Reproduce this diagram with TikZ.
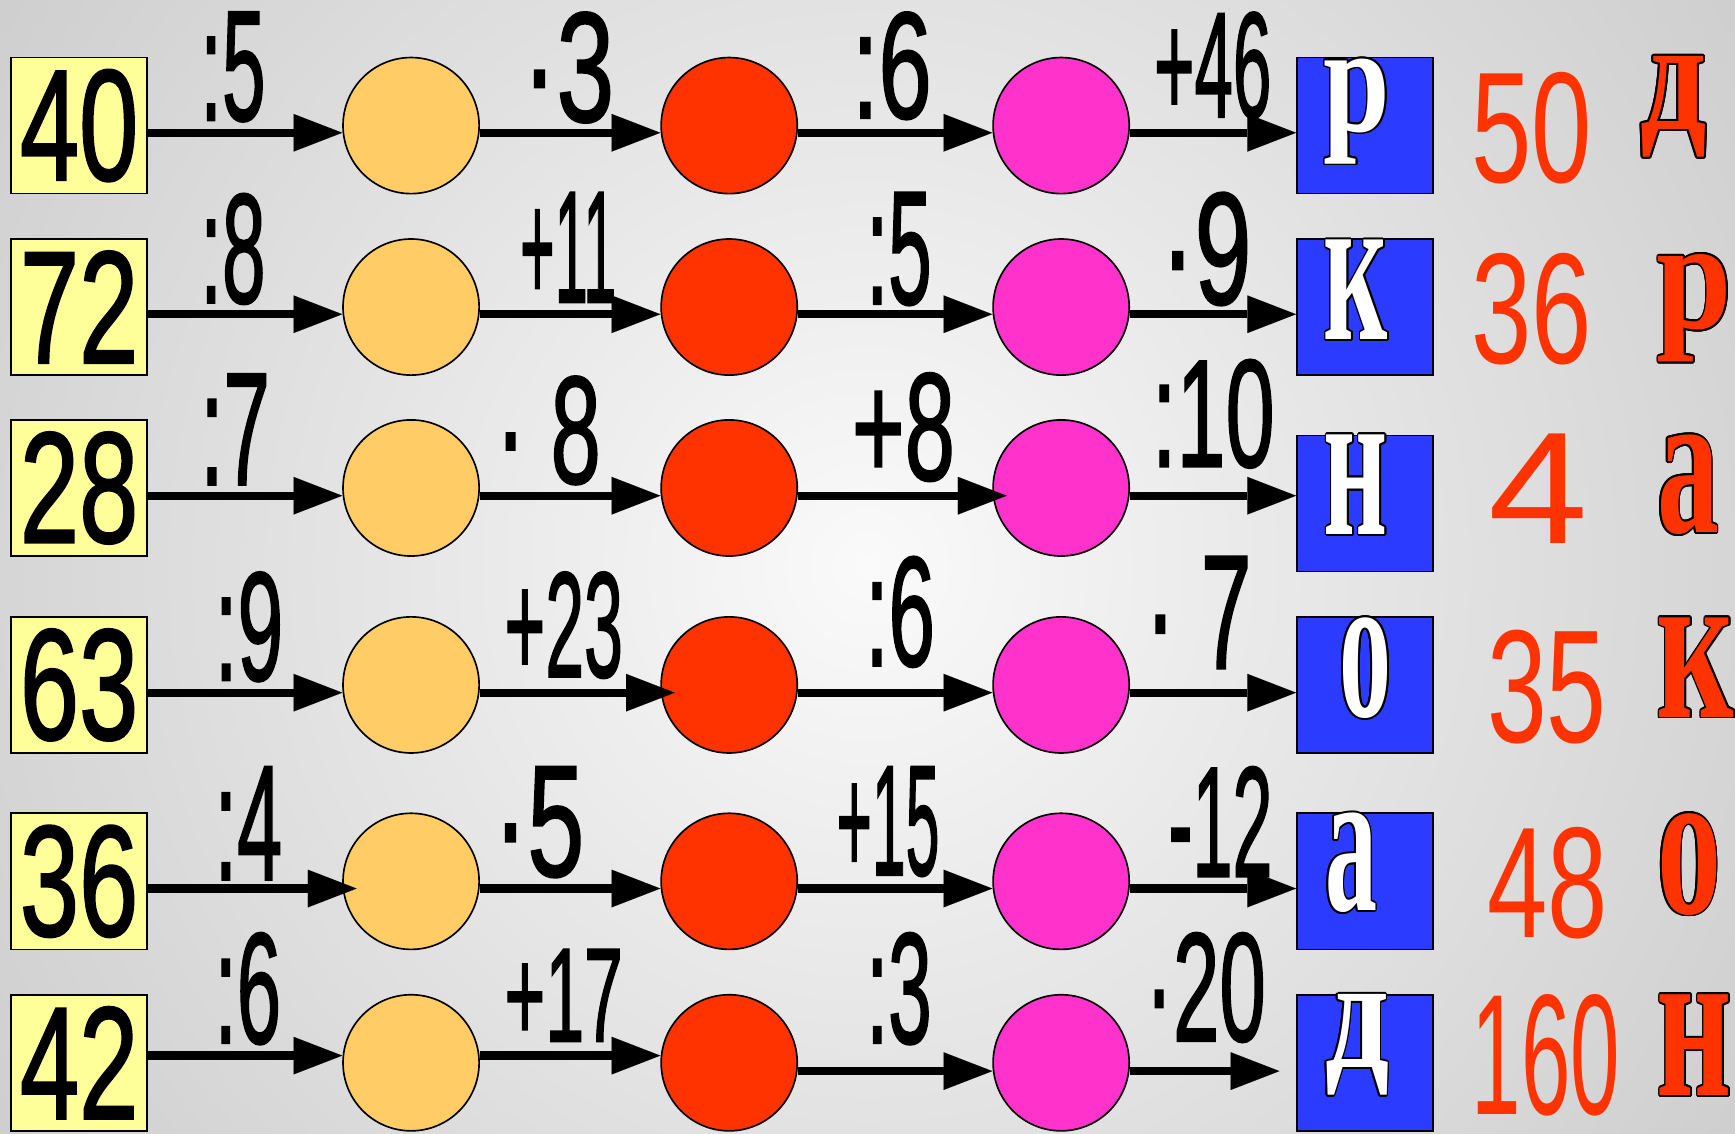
\documentclass[tikz,border=0pt]{standalone}
\usepackage{fontspec}
\setmainfont{Liberation Sans}
\newfontfamily\serifb{Liberation Serif}
\newfontfamily\sansfb{Liberation Sans}[FakeBold=1.5]
\usepackage{graphicx}
\usetikzlibrary{arrows.meta}

\definecolor{bgA}{RGB}{250,250,250}
\definecolor{bgB}{RGB}{238,238,238}
\definecolor{bgC}{RGB}{202,202,202}
\definecolor{bgD}{RGB}{178,178,178}
\definecolor{bgE}{RGB}{166,166,166}
\definecolor{boxY}{RGB}{255,255,153}
\definecolor{cirY}{RGB}{255,204,102}
\definecolor{cirR}{RGB}{255,51,0}
\definecolor{cirP}{RGB}{255,51,204}
\definecolor{boxB}{RGB}{43,59,255}
\definecolor{numR}{RGB}{255,51,0}

\pgfdeclareradialshading{bgshade}{\pgfpoint{0bp}{0bp}}{color(0bp)=(bgA); color(8bp)=(bgB); color(33bp)=(bgC); color(50bp)=(bgD); color(60bp)=(bgE); color(75bp)=(bgE)}

\newcommand\fitbox[3]{\resizebox*{#1pt}{#2pt}{#3}}
% outlined letter: name, x, y, fill colour, width, height, char
\newcommand\olet[7]{%
  \foreach \ang in {0,30,...,330}{%
    \node[lt,text=black] (#1-\ang) at ([shift={(\ang:1.7)}]#2,#3) {\fitbox{#5}{#6}{\serifb\bfseries #7}};}
  \node[lt,text=#4] (#1) at (#2,#3) {\fitbox{#5}{#6}{\serifb\bfseries #7}};
}

\tikzset{
  ybox/.style={draw=black, line width=1.5pt, fill=boxY, minimum width=123pt, minimum height=123pt, inner sep=0pt, font=\sansfb},
  bbox/.style={draw=black, line width=1.5pt, fill=boxB, minimum width=123pt, minimum height=123pt, inner sep=0pt},
  circ/.style={circle, draw=black, line width=1.5pt, minimum size=123pt, inner sep=0pt},
  arr/.style={line width=7.5pt, -{Triangle[length=44pt,width=34pt,line width=0.01pt]}},
  lbl/.style={inner sep=0pt, text=black, font=\sansfb},
  lt/.style={inner sep=0pt},
  rnum/.style={inner sep=0pt, text=numR},
}

\begin{document}
\begin{tikzpicture}[x=1pt,y=-1pt]
\useasboundingbox (0,0) rectangle (1568,1024);
\begin{scope}
  \clip (0,0) rectangle (1568,1024);
  \shade[shading=bgshade] (0,-272) rectangle (1568,1296);
\end{scope}

% start boxes
\node[ybox] (n1) at (71.5,113.5) {\fitbox{107}{101}{40}};
\node[ybox] (n2) at (71.5,277.5) {\fitbox{107}{101}{72}};
\node[ybox] (n3) at (71.5,441) {\fitbox{107}{101}{28}};
\node[ybox] (n4) at (71.5,619) {\fitbox{107}{101}{63}};
\node[ybox] (n5) at (71.5,796.5) {\fitbox{107}{101}{36}};
\node[ybox] (n6) at (71.5,960.5) {\fitbox{107}{101}{42}};

% circles
\foreach \r/\yy in {1/113.5,2/277.5,3/441,4/619,5/796.5,6/960.5}{
  \node[circ, fill=cirY] (a\r) at (371.5,\yy) {};
  \node[circ, fill=cirR] (r\r) at (659,\yy) {};
  \node[circ, fill=cirP] (p\r) at (959,\yy) {};
}

% blue boxes
\node[bbox] (b1) at (1233.5,113.5) {};
\node[bbox] (b2) at (1233.5,277.5) {};
\node[bbox] (b3) at (1233.5,455) {};
\node[bbox] (b4) at (1233.5,619) {};
\node[bbox] (b5) at (1233.5,796.5) {};
\node[bbox] (b6) at (1233.5,960.5) {};

% arrows row 1
\draw[arr] ([yshift=-6.5pt]n1.east) -- ([yshift=-6.5pt]a1.west);
\draw[arr] ([yshift=-6.5pt]a1.east) -- ([yshift=-6.5pt]r1.west);
\draw[arr] ([yshift=-6.5pt]r1.east) -- ([yshift=-6.5pt]p1.west);
\draw[arr] ([yshift=-6.5pt]p1.east) -- ([yshift=-6.5pt]b1.west);
% row 2
\draw[arr] ([yshift=-6.5pt]n2.east) -- ([yshift=-6.5pt]a2.west);
\draw[arr] ([yshift=-6.5pt]a2.east) -- ([yshift=-6.5pt]r2.west);
\draw[arr] ([yshift=-6.5pt]r2.east) -- ([yshift=-6.5pt]p2.west);
\draw[arr] ([yshift=-6.5pt]p2.east) -- ([yshift=-6.5pt]b2.west);
% row 3
\draw[arr] ([yshift=-7pt]n3.east) -- ([yshift=-7pt]a3.west);
\draw[arr] ([yshift=-7pt]a3.east) -- ([yshift=-7pt]r3.west);
\draw[arr] ([yshift=-7pt]r3.east) -- ([xshift=13pt,yshift=-7pt]p3.west);
\draw[arr] ([yshift=-7pt]p3.east) -- ([yshift=7pt]b3.west);
% row 4
\draw[arr] ([yshift=-7pt]n4.east) -- ([yshift=-7pt]a4.west);
\draw[arr] ([yshift=-7pt]a4.east) -- ([xshift=13pt,yshift=-7pt]r4.west);
\draw[arr] ([yshift=-7pt]r4.east) -- ([yshift=-7pt]p4.west);
\draw[arr] ([yshift=-7pt]p4.east) -- ([yshift=-7pt]b4.west);
% row 5
\draw[arr] ([yshift=-6.5pt]n5.east) -- ([xshift=13pt,yshift=-6.5pt]a5.west);
\draw[arr] ([yshift=-6.5pt]a5.east) -- ([yshift=-6.5pt]r5.west);
\draw[arr] ([yshift=-6.5pt]r5.east) -- ([yshift=-6.5pt]p5.west);
\draw[arr] ([yshift=-6.5pt]p5.east) -- ([yshift=-6.5pt]b5.west);
% row 6
\draw[arr] ([yshift=6.5pt]n6.east) -- ([yshift=6.5pt]a6.west);
\draw[arr] ([yshift=6.5pt]a6.east) -- ([yshift=6.5pt]r6.west);
\draw[arr] ([yshift=-7.5pt]r6.east) -- ([yshift=-7.5pt]p6.west);
\draw[arr] ([yshift=-7.5pt]p6.east) -- ([xshift=-15pt,yshift=-7.5pt]b6.west);

% labels
\node[lbl] (l1a) at (210.5,60.5) {\fitbox{59}{99}{:5}};
\node[lbl] (l1b) at (513.5,61) {\fitbox{83}{100}{·3}};
\node[lbl] (l1c) at (806,59.5) {\fitbox{72}{97}{:6}};
\node[lbl] (l1d) at (1096,59) {\fitbox{106}{96}{+46}};

\node[lbl] (l2a) at (210.5,225) {\fitbox{59}{100}{:8}};
\node[lbl] (l2b) at (513.5,223.5) {\fitbox{87}{99}{+11}};
\node[lbl] (l2c) at (812.5,225) {\fitbox{59}{102}{:5}};
\node[lbl] (l2d) at (1090,225) {\fitbox{82}{102}{·9}};

\node[lbl] (l3a) at (212.5,388) {\fitbox{63}{100}{:7}};
\node[lbl] (l3b) at (495.5,389) {\fitbox{95}{98}{· 8}};
\node[lbl] (l3c) at (816.5,386) {\fitbox{93}{98}{+8}};
\node[lbl] (l3d) at (1096.5,374) {\fitbox{111}{98}{:10}};

\node[lbl] (l4a) at (225,566.5) {\fitbox{62}{99}{:9}};
\node[lbl] (l4b) at (509.5,565) {\fitbox{107}{96}{+23}};
\node[lbl] (l4c) at (813.5,553) {\fitbox{63}{100}{:6}};
\node[lbl] (l4d) at (1083,553.5) {\fitbox{96}{101}{· 7}};

\node[lbl] (l5a) at (224.5,744) {\fitbox{61}{102}{:4}};
\node[lbl] (l5b) at (487,743) {\fitbox{82}{100}{·5}};
\node[lbl] (l5c) at (802.5,742.5) {\fitbox{93}{99}{+15}};
\node[lbl] (l5d) at (1103,742.5) {\fitbox{94}{99}{-12}};

\node[lbl] (l6a) at (224,893.5) {\fitbox{60}{101}{:6}};
\node[lbl] (l6b) at (509.5,899.5) {\fitbox{107}{83}{+17}};
\node[lbl] (l6c) at (812.5,893.5) {\fitbox{59}{101}{:3}};
\node[lbl] (l6d) at (1089.5,892.5) {\fitbox{109}{99}{·20}};

% letters in blue boxes
\olet{k1}{1226.5}{100.5}{white}{60}{95}{р}
\olet{k2}{1225.5}{262}{white}{58}{90}{к}
\olet{k3}{1225.5}{438}{white}{58}{90}{н}
\olet{k4}{1234}{603.5}{white}{47}{91}{о}
\olet{k5}{1221}{780}{white}{47}{90}{а}
\olet{k6}{1226.5}{944.5}{white}{58}{91}{д}

% red numbers
\node[rnum] (m1) at (1384.5,115.5) {\fitbox{109}{101}{50}};
\node[rnum] (m2) at (1384.5,279.5) {\fitbox{109}{101}{36}};
\node[rnum] (m3) at (1390,441.5) {\fitbox{90}{99}{4}};
\node[rnum] (m4) at (1398,620.5) {\fitbox{108}{103}{35}};
\node[rnum] (m5) at (1398.5,798.5) {\fitbox{109}{101}{48}};
\node[rnum] (m6) at (1397,954) {\fitbox{134}{110}{160}};

% answer letters
\olet{w1}{1512.5}{96.5}{numR}{60}{91}{д}
\olet{w2}{1531.5}{278.5}{numR}{68}{97}{р}
\olet{w3}{1525.5}{438}{numR}{56}{90}{а}
\olet{w4}{1532.5}{603}{numR}{70}{90}{к}
\olet{w5}{1526.5}{781}{numR}{58}{92}{о}
\olet{w6}{1531.5}{944.5}{numR}{68}{91}{н}
\end{tikzpicture}
\end{document}
